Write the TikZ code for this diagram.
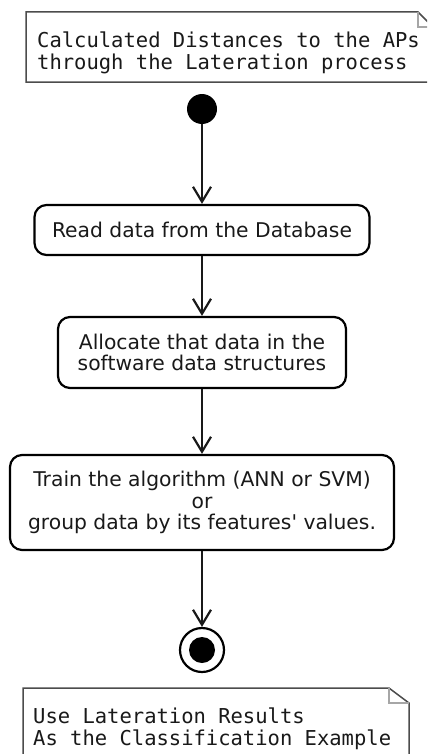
\documentclass[tikz,border=0pt]{standalone}
\usepackage{fontspec}
\setmainfont{DejaVu Sans}
\newfontfamily\notefont{DejaVu Sans Mono}
\usetikzlibrary{arrows.meta}
\begin{document}
\begin{tikzpicture}[x=1bp,y=-1bp,
  activity/.style={draw=black, line width=2.2bp, rounded corners=12bp,
    align=center, inner sep=0pt, text=black!90,
    font=\fontsize{20.3bp}{21.7bp}\selectfont},
  flow/.style={-{Straight Barb[length=15bp,width=18bp,line width=2.2bp]},
    line width=2.4bp, draw=black!90},
  notebody/.style={draw=black!70, line width=1.5bp, fill=white},
  notefold/.style={draw=black!35, line width=1.2bp},
  notetext/.style={anchor=north west, inner sep=0pt, align=left,
    text=black!90, font=\notefont\fontsize{20.5bp}{21.7bp}\selectfont},
  initial/.style={circle, fill=black, inner sep=0pt, minimum size=30bp},
  finalring/.style={circle, draw=black, line width=2.2bp, inner sep=0pt,
    minimum size=44bp}]
\useasboundingbox (0,0) rectangle (427,754);
\begin{scope}
  \clip (0,0) rectangle (427,754);
  % input note (runs past the right edge)
  \draw[notebody] (26,12) -- (418,12) -- (433,27) -- (433,82) -- (26,82) -- cycle;
  \draw[notefold] (418,12) -- (418,27) -- (433,27);
  \node[notetext] (innote) at (37,32) {Calculated Distances to the APs\\through the Lateration process};
  % output note (runs past the bottom edge)
  \draw[notebody] (23,688) -- (389,688) -- (409,703) -- (409,770) -- (23,770) -- cycle;
  \draw[notefold] (389,688) -- (389,703) -- (409,703);
  \node[notetext] (outnote) at (33,708) {Use Lateration Results\\As the Classification Example};
\end{scope}

\node[initial] (start) at (202,109) {};
\node[activity, minimum width=335bp, minimum height=50bp] (read) at (202,230)
  {Read data from the Database};
\node[activity, minimum width=288bp, minimum height=71bp] (alloc) at (202,352.5)
  {Allocate that data in the\\software data structures};
\node[activity, minimum width=384bp, minimum height=95bp] (train) at (202,502.5)
  {Train the algorithm (ANN or SVM)\\or\\group data by its features\textquotesingle{} values.};
\node[finalring] (stop) at (202,650) {};
\fill (stop.center) circle[radius=13bp];

\draw[flow] (start) -- (read);
\draw[flow] (read) -- (alloc);
\draw[flow] (alloc) -- (train);
\draw[flow] (train) -- (stop);
\end{tikzpicture}
\end{document}
